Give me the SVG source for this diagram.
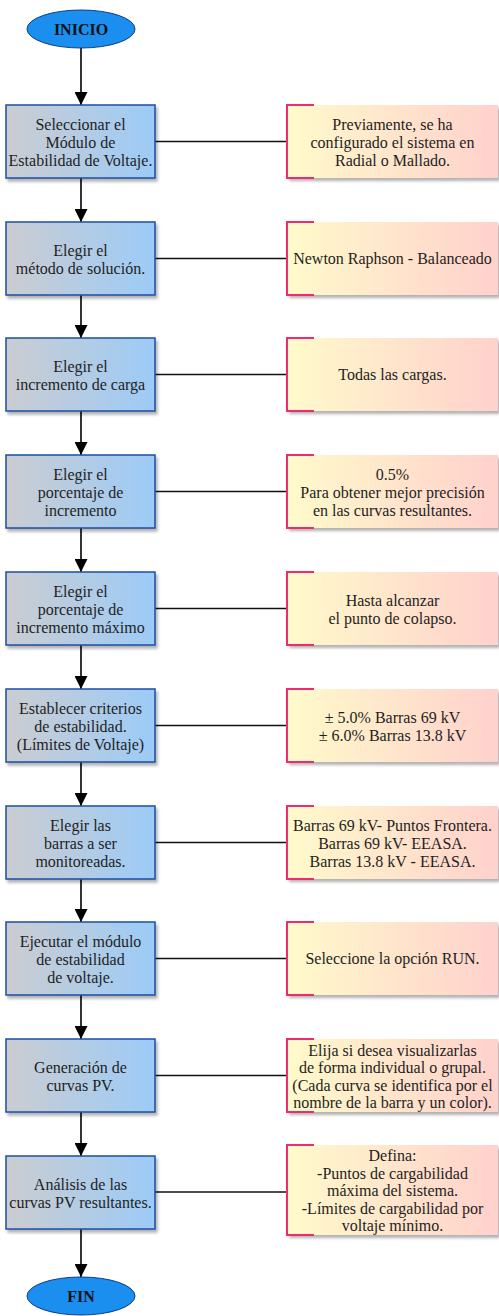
<svg xmlns="http://www.w3.org/2000/svg" width="499" height="1316" viewBox="0 0 499 1316">
  <style>
    .step { fill: url(#stepFill); stroke: #1c4ea6; stroke-width: 1.5; filter: url(#shadow); }
    .note { fill: url(#noteFill); filter: url(#shadow); }
    .noteEdge { fill: none; stroke: #ee2a72; stroke-width: 2; }
    .term { fill: #1a8ff0; stroke: #0d3d84; stroke-width: 1; }
    .txt { font-family: "Liberation Serif", "Times New Roman", serif; font-size: 16px; fill: #1e1e1e; text-anchor: middle; }
    .termTxt { font-family: "Liberation Serif", "Times New Roman", serif; font-size: 16px; font-weight: bold; fill: #111; text-anchor: middle; }
    .flow { stroke: #000; stroke-width: 1.6; fill: none; marker-end: url(#arrow); }
    .link { stroke: #111; stroke-width: 1.3; fill: none; }
  </style>
  <defs>
    <linearGradient id="stepFill" x1="0" y1="0" x2="1" y2="0">
      <stop offset="0" stop-color="#cbcdd1"/>
      <stop offset="1" stop-color="#9ccbf7"/>
    </linearGradient>
    <linearGradient id="noteFill" x1="0" y1="0" x2="1" y2="0">
      <stop offset="0" stop-color="#fffacb"/>
      <stop offset="1" stop-color="#ffd1cc"/>
    </linearGradient>
    <filter id="shadow" x="-10%" y="-10%" width="125%" height="130%">
      <feDropShadow dx="2" dy="3" stdDeviation="1.5" flood-color="#000" flood-opacity="0.3"/>
    </filter>
    <marker id="arrow" markerUnits="userSpaceOnUse" markerWidth="14" markerHeight="13" refX="13" refY="6.5" orient="auto">
      <path d="M0,0 L13,6.5 L0,13 Z" fill="#000"/>
    </marker>
  </defs>

  <!-- vertical flow arrows and side links -->
  <g id="connectors">
    <line class="flow" x1="81" y1="48" x2="81" y2="105"/>
    <line class="flow" x1="81" y1="178" x2="81" y2="222"/>
    <line class="flow" x1="81" y1="295" x2="81" y2="338"/>
    <line class="flow" x1="81" y1="411" x2="81" y2="455"/>
    <line class="flow" x1="81" y1="528" x2="81" y2="572"/>
    <line class="flow" x1="81" y1="645" x2="81" y2="689"/>
    <line class="flow" x1="81" y1="762" x2="81" y2="806"/>
    <line class="flow" x1="81" y1="879" x2="81" y2="922"/>
    <line class="flow" x1="81" y1="995" x2="81" y2="1039"/>
    <line class="flow" x1="81" y1="1112" x2="81" y2="1156"/>
    <line class="flow" x1="81" y1="1229" x2="81" y2="1277"/>

    <line class="link" x1="155" y1="141.5" x2="287" y2="141.5"/>
    <line class="link" x1="155" y1="258.5" x2="287" y2="258.5"/>
    <line class="link" x1="155" y1="374.5" x2="287" y2="374.5"/>
    <line class="link" x1="155" y1="491.5" x2="287" y2="491.5"/>
    <line class="link" x1="155" y1="608.5" x2="287" y2="608.5"/>
    <line class="link" x1="155" y1="725.5" x2="287" y2="725.5"/>
    <line class="link" x1="155" y1="842.5" x2="287" y2="842.5"/>
    <line class="link" x1="155" y1="958.5" x2="287" y2="958.5"/>
    <line class="link" x1="155" y1="1075.5" x2="287" y2="1075.5"/>
    <line class="link" x1="155" y1="1192" x2="287" y2="1192"/>
  </g>

  <g id="inicio">
    <ellipse class="term" cx="81" cy="29" rx="54" ry="19"/>
    <text class="termTxt" x="81" y="35">INICIO</text>
  </g>

  <g id="step1">
    <rect class="step" x="6" y="105" width="149" height="73"/>
    <text class="txt" x="80.5" y="130">Seleccionar el<tspan x="80.5" dy="18">Módulo de</tspan><tspan x="80.5" dy="18">Estabilidad de Voltaje.</tspan></text>
  </g>
  <g id="note1">
    <rect class="note" x="287" y="105" width="211" height="73"/>
    <path class="noteEdge" d="M314,105 H287 V178 H314"/>
    <text class="txt" x="392.5" y="130">Previamente, se ha<tspan x="392.5" dy="18">configurado el sistema en</tspan><tspan x="392.5" dy="18">Radial o Mallado.</tspan></text>
  </g>

  <g id="step2">
    <rect class="step" x="6" y="222" width="149" height="73"/>
    <text class="txt" x="80.5" y="255.5">Elegir el<tspan x="80.5" dy="18">método de solución.</tspan></text>
  </g>
  <g id="note2">
    <rect class="note" x="287" y="222" width="211" height="73"/>
    <path class="noteEdge" d="M314,222 H287 V295 H314"/>
    <text class="txt" x="392.5" y="264">Newton Raphson - Balanceado</text>
  </g>

  <g id="step3">
    <rect class="step" x="6" y="338" width="149" height="73"/>
    <text class="txt" x="80.5" y="371.5">Elegir el<tspan x="80.5" dy="18">incremento de carga</tspan></text>
  </g>
  <g id="note3">
    <rect class="note" x="287" y="338" width="211" height="73"/>
    <path class="noteEdge" d="M314,338 H287 V411 H314"/>
    <text class="txt" x="392.5" y="380">Todas las cargas.</text>
  </g>

  <g id="step4">
    <rect class="step" x="6" y="455" width="149" height="73"/>
    <text class="txt" x="80.5" y="479.5">Elegir el<tspan x="80.5" dy="18">porcentaje de</tspan><tspan x="80.5" dy="18">incremento</tspan></text>
  </g>
  <g id="note4">
    <rect class="note" x="287" y="455" width="211" height="73"/>
    <path class="noteEdge" d="M314,455 H287 V528 H314"/>
    <text class="txt" x="392.5" y="479.5">0.5%<tspan x="392.5" dy="18">Para obtener mejor precisión</tspan><tspan x="392.5" dy="18">en las curvas resultantes.</tspan></text>
  </g>

  <g id="step5">
    <rect class="step" x="6" y="572" width="149" height="73"/>
    <text class="txt" x="80.5" y="596.5">Elegir el<tspan x="80.5" dy="18">porcentaje de</tspan><tspan x="80.5" dy="18">incremento máximo</tspan></text>
  </g>
  <g id="note5">
    <rect class="note" x="287" y="572" width="211" height="73"/>
    <path class="noteEdge" d="M314,572 H287 V645 H314"/>
    <text class="txt" x="392.5" y="605.5">Hasta alcanzar<tspan x="392.5" dy="18">el punto de colapso.</tspan></text>
  </g>

  <g id="step6">
    <rect class="step" x="6" y="689" width="149" height="73"/>
    <text class="txt" x="80.5" y="713.5">Establecer criterios<tspan x="80.5" dy="18">de estabilidad.</tspan><tspan x="80.5" dy="18">(Límites de Voltaje)</tspan></text>
  </g>
  <g id="note6">
    <rect class="note" x="287" y="689" width="211" height="73"/>
    <path class="noteEdge" d="M314,689 H287 V762 H314"/>
    <text class="txt" x="392.5" y="722.5">± 5.0% Barras 69 kV<tspan x="392.5" dy="18">± 6.0% Barras 13.8 kV</tspan></text>
  </g>

  <g id="step7">
    <rect class="step" x="6" y="806" width="149" height="73"/>
    <text class="txt" x="80.5" y="830.5">Elegir las<tspan x="80.5" dy="18">barras a ser</tspan><tspan x="80.5" dy="18">monitoreadas.</tspan></text>
  </g>
  <g id="note7">
    <rect class="note" x="287" y="806" width="211" height="73"/>
    <path class="noteEdge" d="M314,806 H287 V879 H314"/>
    <text class="txt" x="392.5" y="830.5">Barras 69 kV- Puntos Frontera.<tspan x="392.5" dy="18">Barras 69 kV- EEASA.</tspan><tspan x="392.5" dy="18">Barras 13.8 kV - EEASA.</tspan></text>
  </g>

  <g id="step8">
    <rect class="step" x="6" y="922" width="149" height="73"/>
    <text class="txt" x="80.5" y="946.5">Ejecutar el módulo<tspan x="80.5" dy="18">de estabilidad</tspan><tspan x="80.5" dy="18">de voltaje.</tspan></text>
  </g>
  <g id="note8">
    <rect class="note" x="287" y="922" width="211" height="73"/>
    <path class="noteEdge" d="M314,922 H287 V995 H314"/>
    <text class="txt" x="392.5" y="964">Seleccione la opción RUN.</text>
  </g>

  <g id="step9">
    <rect class="step" x="6" y="1039" width="149" height="73"/>
    <text class="txt" x="80.5" y="1072.5">Generación de<tspan x="80.5" dy="18">curvas PV.</tspan></text>
  </g>
  <g id="note9">
    <rect class="note" x="287" y="1039" width="211" height="73"/>
    <path class="noteEdge" d="M314,1039 H287 V1112 H314"/>
    <text class="txt" x="392.5" y="1055.5">Elija si desea visualizarlas<tspan x="392.5" dy="17.5">de forma individual o grupal.</tspan><tspan x="392.5" dy="17.5">(Cada curva se identifica por el</tspan><tspan x="392.5" dy="17.5">nombre de la barra y un color).</tspan></text>
  </g>

  <g id="step10">
    <rect class="step" x="6" y="1156" width="149" height="73"/>
    <text class="txt" x="80.5" y="1189.5">Análisis de las<tspan x="80.5" dy="18">curvas PV resultantes.</tspan></text>
  </g>
  <g id="note10">
    <rect class="note" x="287" y="1145" width="211" height="90"/>
    <path class="noteEdge" d="M314,1145 H287 V1235 H314"/>
    <text class="txt" x="392.5" y="1161">Defina:<tspan x="392.5" dy="17.5">-Puntos de cargabilidad</tspan><tspan x="392.5" dy="17.5">máxima del sistema.</tspan><tspan x="392.5" dy="17.5">-Límites de cargabilidad por</tspan><tspan x="392.5" dy="17.5">voltaje mínimo.</tspan></text>
  </g>

  <g id="fin">
    <ellipse class="term" cx="81" cy="1296" rx="54" ry="19"/>
    <text class="termTxt" x="81" y="1302">FIN</text>
  </g>
</svg>
